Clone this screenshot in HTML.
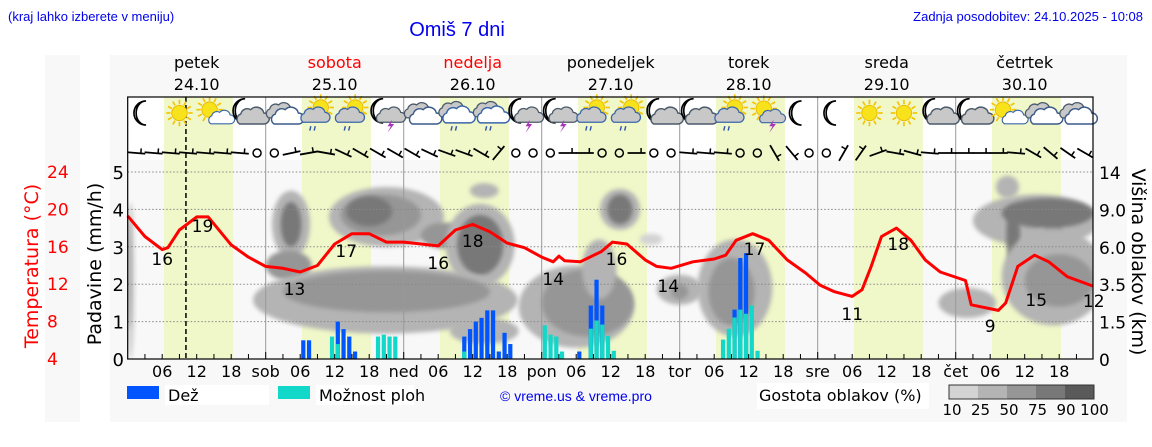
<!DOCTYPE html>
<html><head><meta charset="utf-8">
<style>
body{margin:0;background:#fff;width:1152px;height:443px;overflow:hidden;font-family:"DejaVu Sans","Liberation Sans",sans-serif;}
svg text{font-family:"DejaVu Sans","Liberation Sans",sans-serif;}
</style></head>
<body>
<svg id="chart" width="1152" height="443" viewBox="0 0 1152 443" xmlns="http://www.w3.org/2000/svg">
<defs>
<filter id="blur" x="-20%" y="-20%" width="140%" height="140%"><feGaussianBlur stdDeviation="2.2"/></filter>
<clipPath id="plotclip"><rect x="127.7" y="160" width="965.3" height="199"/></clipPath>
</defs>
<rect x="45" y="55" width="35" height="367" fill="#f8f8f8"/>
<rect x="110" y="55" width="1017" height="367" fill="#f8f8f8"/>
<text x="8" y="21" font-size="13" fill="#0000ee" style="font-family:'Liberation Sans',sans-serif">(kraj lahko izberete v meniju)</text>
<text x="457" y="36" font-size="20" fill="#0000ee" text-anchor="middle" style="font-family:'Liberation Sans',sans-serif">Omiš 7 dni</text>
<text x="1143" y="21" font-size="13" fill="#0000ee" text-anchor="end" style="font-family:'Liberation Sans',sans-serif">Zadnja posodobitev: 24.10.2025 - 10:08</text>
<rect x="127.7" y="97" width="965.3" height="63" fill="#fff"/>
<rect x="127.7" y="160" width="965.3" height="199" fill="#f8f8f8"/>
<g id="bands"></g>
<g id="clouds" clip-path="url(#plotclip)"></g>
<g id="grid"></g>
<g id="bars"></g>
<g id="temp"></g>
<g id="icons"></g>
<g id="wind"></g>
<g id="axes"></g>
<g id="legend">
<rect x="127" y="386" width="32" height="13" fill="#0055ff"/>
<rect x="165" y="385" width="104" height="20" fill="#fff"/>
<text x="168" y="401" font-size="16">Dež</text>
<rect x="278" y="386" width="32" height="13" fill="#11d8c8"/>
<rect x="316" y="385" width="98" height="20" fill="#fff"/>
<text x="319" y="401" font-size="16">Možnost ploh</text>
<text x="500" y="401" font-size="14" fill="#0000ee" style="font-family:'Liberation Sans',sans-serif">© vreme.us &amp; vreme.pro</text>
<rect x="757" y="383" width="172" height="26" fill="#fff"/>
<text x="759" y="401" font-size="16">Gostota oblakov (%)</text>
</g>
</svg>
<script>
const NS='http://www.w3.org/2000/svg';
const days=['petek','sobota','nedelja','ponedeljek','torek','sreda','četrtek'];
const dates=['24.10','25.10','26.10','27.10','28.10','29.10','30.10'];
const dayAbbr=['','sob','ned','pon','tor','sre','čet'];
const tempTicks=[4,8,12,16,20,24];
const precipTicks=[0,1,2,3,4,5];
const cloudHeightTicks=['0','1.5','3.5','6.0','9.0','14'];
const cloudLegendLabels=['10','25','50','75','90','100'];
const cloudColors=['#d3d3d3','#b4b4b4','#969696','#787878','#5a5a5a'];
const tempHours=[0,3,6,7,9,12,14,18,21,24,27,30,33,36,39,42,45,48,51,54,57,60,63,66,69,72,74,75,76,78.7,82.4,84.3,86.8,90,92,94.5,98.3,102,104,105.8,108.7,111.5,114.7,117.9,120.4,122.9,126,127.7,129.3,131.1,133.7,136.2,138.7,141.3,145.7,146.7,151.4,152.7,154.8,157.7,160.2,163.4,167.9];
const tempValues=[19.3,17.1,15.7,15.9,17.8,19.2,19.2,16.2,14.9,13.9,13.7,13.3,14.0,16.3,17.4,17.4,16.5,16.5,16.3,16.1,17.8,18.4,17.6,16.4,15.9,14.9,14.4,15.0,14.5,14.4,15.5,16.5,16.3,14.6,13.9,13.7,14.4,14.7,15.1,16.7,17.4,16.7,14.6,13.2,11.9,11.2,10.7,11.4,13.9,17.1,18.0,16.7,14.6,13.3,12.4,9.8,9.2,10.0,13.9,15.1,14.4,12.8,11.8];
const tempLabelHours=[6,13,29,38,54,60,74,85,94,109,126,134,150,158,168];
const tempLabelValues=[16,19,13,17,16,18,14,16,14,17,11,18,9,15,12];
const barHours=[30,31,35,36,37,38,39,43,44,45,46,58,59,60,61,62,63,64,65,66,72,73,74,75,78,80,81,82,83,84,103,104,105,106,107,108,109];
const rainValues=[0.5,0.5,0,1.0,0.8,0.6,0.2,0,0,0,0,0.6,0.8,1.0,1.1,1.3,1.3,0.2,0.7,0.4,0,0,0,0,0.2,1.43,2.12,1.43,0,0,0,0,1.32,2.7,2.83,0,0];
const chanceValues=[0,0,0.6,0.4,0,0,0,0.6,0.65,0.6,0.6,0.2,0,0,0,0,0,0,0,0,0.9,0.65,0.6,0.2,0,0.81,1.03,0.92,0.62,0.22,0.52,0.81,1.11,1.32,1.21,1.43,0.22];
const cloudHour=[0.5,0.3,28.4,28.4,28,45,44,42,55,61.3,61.3,62,44.8,45,62,78,80,82,85.6,85.6,91,96,96,105.6,105,146,158,160,154,161,161,162,153];
const cloudLevel=[2.1,2.3,3.6,3.6,2.5,3.8,3.85,3.95,3.3,3.05,3.05,4.5,1.58,1.8,0.75,1.4,1.5,2.4,4.0,4.0,3.2,1.85,1.8,1.9,1.8,1.5,3.7,3.9,3.3,3.3,2.2,2.1,4.6];
const cloudRx=[0.8,0.5,3.3,1.8,4,10,7,4,4,6,4,2.5,23,18,6,10,8,3,3.5,2.2,2,4,1.5,6.5,4,5,11,8,1.2,1.5,9,6,2];
const cloudRy=[2.1,1.5,0.9,0.6,0.4,0.8,0.55,0.4,0.35,1.1,0.8,0.2,0.9,0.55,0.35,1.1,0.9,0.8,0.55,0.4,0.15,0.4,0.2,1.3,0.9,0.4,0.7,0.4,0.8,0.8,1.3,0.7,0.3];
const cloudDensity=[0,1,1,3,2,1,2,3,2,1,3,1,1,2,1,1,2,1,1,3,0,1,2,1,2,1,1,3,3,3,1,2,1];
const iconTypes=['moon','sun','sunCloud','moonCloud','cloud','sunRain','sunRain','moonThunder','cloud','cloudRain','cloudRain','moonThunder','moonThunder','sunRain','sunRain','moonCloud','moonCloud','sunRain','sunThunder','moon','moon','sun','sun','moonCloud','moonCloud','sunCloud','cloud','cloud'];
const windAngles=[5,5,5,5,5,5,5,null,null,-12,-10,10,25,30,30,30,30,25,20,20,30,-50,null,null,null,0,0,null,null,0,null,null,5,5,5,null,null,60,50,null,null,-60,-55,-20,10,15,5,0,0,0,0,5,30,40,35,30];

const X0=127.7, PXH=5.75, Y0=359, PXV=37.4;
const xs=h=>X0+h*PXH;
const yv=v=>Y0-v*PXV;
const yt=t=>Y0-(t-4)*9.35;
function mk(tag,attrs,parent,txt){const e=document.createElementNS(NS,tag);for(const k in attrs)e.setAttribute(k,attrs[k]);if(txt!==undefined)e.textContent=txt;parent.appendChild(e);return e;}
const g=id=>document.getElementById(id);

for(let d=0;d<7;d++){
  const r=mk('rect',{x:xs(d*24+6.3),y:97,width:12*PXH,height:262,fill:'#f0f7c8'},g('bands'));
  
  
}
cloudHour.forEach((h,i)=>{
  const e=mk('ellipse',{cx:xs(h),cy:yv(cloudLevel[i]),rx:cloudRx[i]*PXH,ry:cloudRy[i]*PXV,fill:cloudColors[cloudDensity[i]],filter:'url(#blur)'},g('clouds'));
  
  
});
precipTicks.slice(1).forEach(v=>{
  const l=mk('line',{x1:X0,x2:1093,y1:yv(v),y2:yv(v),stroke:'#888','stroke-width':1,'stroke-dasharray':'1.5,2'},g('grid'));
  
  
});
for(let d=1;d<7;d++){
  const l=mk('line',{x1:xs(d*24),x2:xs(d*24),y1:97,y2:359,stroke:'#999','stroke-width':1},g('grid'));
  
  
}
const nl=mk('line',{x1:xs(10.13),x2:xs(10.13),y1:97,y2:359,stroke:'#000','stroke-width':1.5,'stroke-dasharray':'5,3'},g('grid'));


barHours.forEach((h,i)=>{
  if(rainValues[i]>0){const b=mk('rect',{x:xs(h)+1,y:yv(rainValues[i]),width:4.2,height:rainValues[i]*PXV,fill:'#0055ff'},g('bars'));
  
  }
  if(chanceValues[i]>0){const c=mk('rect',{x:xs(h)+1,y:yv(chanceValues[i]),width:4.2,height:chanceValues[i]*PXV,fill:'#11d8c8'},g('bars'));
  
  }
});
const tp=mk('polyline',{points:tempHours.map((h,i)=>xs(h).toFixed(1)+','+yt(tempValues[i]).toFixed(1)).join(' '),fill:'none',stroke:'#ff0000','stroke-width':3,'stroke-linejoin':'round'},g('temp'));


tempLabelHours.forEach((h,i)=>{
  const v=tempLabelValues[i];
  const yy=[265,232,295,257,269,247,285,265,292,255,320,250,332,306,307][i];
  const t=mk('text',{x:xs(h),y:yy,'font-size':17,'text-anchor':'middle'},g('temp'),String(v));
  
  
});
function drawIcon(type,cx,cy,p){
  const outer=mk('g',{transform:`translate(${cx},${cy}) scale(1.1) translate(${-cx},${-cy})`},p);
  const grp=outer;
  const sun=(x,y,r)=>{for(let a=0;a<360;a+=30){const rad=a*Math.PI/180;mk('line',{x1:x+Math.cos(rad)*(r+1),y1:y+Math.sin(rad)*(r+1),x2:x+Math.cos(rad)*(r+5),y2:y+Math.sin(rad)*(r+5),stroke:'#f5c400','stroke-width':1.5},grp);}mk('circle',{cx:x,cy:y,r:r,fill:'#f7e21c',stroke:'#e8b800','stroke-width':0.8},grp);};
  const moon=(x,y)=>mk('path',{d:`M${x+3},${y-11} A11,11 0 1,0 ${x+3},${y+11} A9,11 0 0,1 ${x+3},${y-11}Z`,fill:'#fff',stroke:'#000','stroke-width':1.5},grp);
  const cloud=(x,y,s,fill,stroke)=>mk('path',{d:`M${x-11},${y+6} a5,5 0 0,1 1,-9 a6,6 0 0,1 9,-4 a7,7 0 0,1 12,3 a5,5 0 0,1 0,10 Z`,fill:fill,stroke:stroke,'stroke-width':1.3,transform:`translate(${x},${y}) scale(${s}) translate(${-x},${-y})`},grp);
  const rain=(x,y)=>{for(let k=0;k<2;k++)mk('line',{x1:x-3+k*4,y1:y,x2:x-4+k*4,y2:y+4,stroke:'#3355aa','stroke-width':1.3},grp);};
  const bolt=(x,y)=>mk('path',{d:`M${x+2},${y} L${x-2},${y+6} L${x+1},${y+6} L${x-2},${y+12} L${x+4},${y+4} L${x+1},${y+4} Z`,fill:'#aa33bb'},grp);
  if(type==='moon')moon(cx-2,cy);
  if(type==='sun')sun(cx,cy,7);
  if(type==='sunCloud'){sun(cx-4,cy-3,7);cloud(cx+6,cy+5,0.8,'#fff','#3a66aa');}
  if(type==='moonCloud'){moon(cx-6,cy-2);cloud(cx+3,cy+4,1,'#c8c8c8','#4a5a6a');}
  if(type==='cloud'){cloud(cx-3,cy-1,0.9,'#c8c8c8','#4a5a6a');cloud(cx+3,cy+4,1,'#fff','#3a5a88');}
  if(type==='sunRain'){sun(cx+3,cy-5,7);cloud(cx-3,cy+3,0.9,'#c8c8c8','#3a66aa');rain(cx-3,cy+12);}
  if(type==='cloudRain'){cloud(cx-3,cy-2,0.9,'#c8c8c8','#4a5a6a');cloud(cx+2,cy+3,1,'#fff','#3a66aa');rain(cx,cy+12);}
  if(type==='moonThunder'){moon(cx-6,cy-2);cloud(cx+3,cy+3,0.9,'#c8c8c8','#4a5a6a');bolt(cx+3,cy+6);}
  if(type==='sunThunder'){sun(cx-2,cy-4,7);cloud(cx+5,cy+4,0.8,'#c8c8c8','#3a66aa');bolt(cx+5,cy+6);}
  return outer;
}
iconTypes.forEach((t,i)=>{
  const ic=drawIcon(t,xs(3+i*6),113,g('icons'));
  
  
});
windAngles.forEach((a,i)=>{
  const cx=xs(i*3+1.5), cy=153;
  let el;
  if(a===null){el=mk('circle',{cx:cx,cy:cy,r:4,fill:'none',stroke:'#000','stroke-width':1.5},g('wind'));}
  else{
    const rad=a*Math.PI/180, L=9;
    const dx=Math.cos(rad)*L, dy=Math.sin(rad)*L;
    el=mk('g',{},g('wind'));
    mk('line',{x1:cx-dx,y1:cy-dy,x2:cx+dx,y2:cy+dy,stroke:'#000','stroke-width':1.8},el);
    mk('line',{x1:cx+dx*0.5,y1:cy+dy*0.5,x2:cx+dx*0.5+Math.sin(rad)*5,y2:cy+dy*0.5-Math.cos(rad)*5,stroke:'#000','stroke-width':1.5},el);
  }
  
  
});
const ax=g('axes');
const frame=mk('rect',{x:X0,y:97,width:965.3,height:262,fill:'none',stroke:'#000','stroke-width':1.2},ax);


for(let h=3;h<168;h+=3){
  const t=mk('line',{x1:xs(h),x2:xs(h),y1:359,y2:h%24===0?352:354,stroke:'#000','stroke-width':1},ax);
  
  
}
for(let d=0;d<7;d++){
  [6,12,18].forEach(hh=>{const t=mk('text',{x:xs(d*24+hh),y:377,'font-size':16,'text-anchor':'middle'},ax,(hh<10?'0':'')+hh);
  
  });
  if(d>0){const t=mk('text',{x:xs(d*24),y:377,'font-size':16,'text-anchor':'middle'},ax,dayAbbr[d]);
  
  }
  const col=(d===1||d===2)?'#ff0000':'#000';
  const dn=mk('text',{x:xs(d*24+12),y:68,'font-size':16,'text-anchor':'middle',fill:col},ax,days[d]);
  
  
  const dt=mk('text',{x:xs(d*24+12),y:90,'font-size':16,'text-anchor':'middle'},ax,dates[d]);
  
  
}
tempTicks.forEach(t=>{const e=mk('text',{x:47,y:yt(t)+6,'font-size':17,fill:'#ff0000'},ax,String(t));

});
precipTicks.forEach(v=>{const e=mk('text',{x:124,y:yv(v)+7,'font-size':18,'text-anchor':'end'},ax,String(v));

});
cloudHeightTicks.forEach((s,i)=>{const e=mk('text',{x:1099,y:yv(i)+7,'font-size':17},ax,s);

});
const lt=mk('text',{x:0,y:0,'font-size':19,'text-anchor':'middle',fill:'#ff0000',transform:'translate(38,266) rotate(-90)'},ax,'Temperatura (°C)');


const pt=mk('text',{x:0,y:0,'font-size':19,'text-anchor':'middle',transform:'translate(101,264) rotate(-90)'},ax,'Padavine (mm/h)');


const rt=mk('text',{x:0,y:0,'font-size':19,'text-anchor':'middle',transform:'translate(1132,262) rotate(90)'},ax,'Višina oblakov (km)');


cloudColors.forEach((c,i)=>{const r=mk('rect',{x:949+i*29,y:385,width:29,height:14,fill:c},g('legend'));

});
const lb=mk('rect',{x:949,y:385,width:145,height:14,fill:'none',stroke:'#333','stroke-width':1},g('legend'));


cloudLegendLabels.forEach((s,i)=>{const t=mk('text',{x:952+i*28.5,y:415,'font-size':15,'text-anchor':'middle'},g('legend'),s);

});
</script>
</body></html>
